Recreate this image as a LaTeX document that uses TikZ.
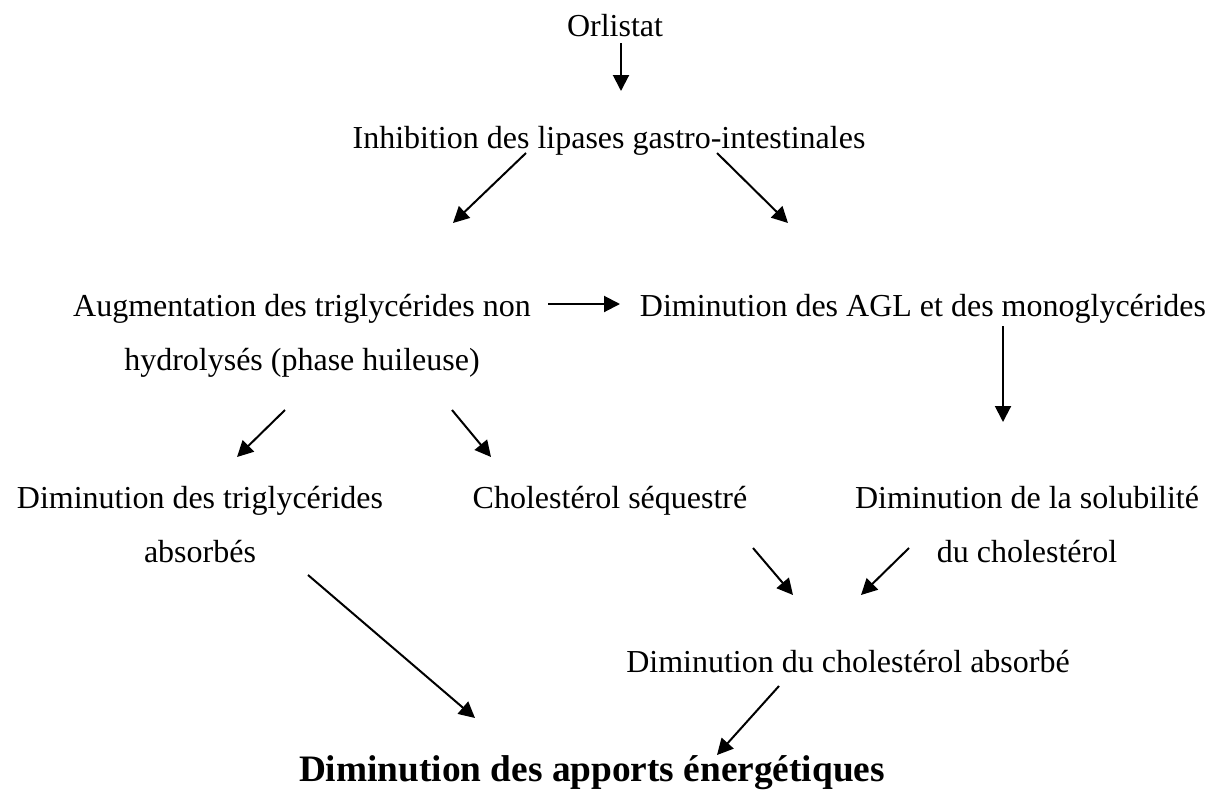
\documentclass[tikz,border=0pt]{standalone}
\usepackage{fontspec}
\setmainfont{Liberation Serif}
\usetikzlibrary{arrows.meta}
\begin{document}
\begin{tikzpicture}[x=0.375pt,y=-0.375pt,
  lbl/.style={anchor=base, inner sep=0pt, align=center,
              font=\fontsize{12}{20.25}\selectfont},
  final/.style={anchor=base, inner sep=0pt,
                font=\fontsize{14}{16}\selectfont\bfseries},
  arr/.style={line width=0.75pt, -{Triangle[length=6pt,width=6pt]}}]
\useasboundingbox (0,0) rectangle (1209,789);

% statements (base anchor = baseline of the last line)
\node[lbl] (orl)  at (615,37)  {Orlistat};
\node[lbl] (inh)  at (609,148) {Inhibition des lipases gastro-intestinales};
\node[lbl] (aug)  at (302,370) {Augmentation des triglycérides non\\hydrolysés (phase huileuse)};
\node[lbl] (agl)  at (923,316) {Diminution des AGL et des monoglycérides};
\node[lbl] (trig) at (200,562) {Diminution des triglycérides\\absorbés};
\node[lbl] (seq)  at (610,508) {Cholestérol séquestré};
\node[lbl] (sol)  at (1027,562) {Diminution de la solubilité\\du cholestérol};
\node[lbl] (chab) at (848,672) {Diminution du cholestérol absorbé};
\node[final] (fin) at (592,781) {Diminution des apports énergétiques};

% arrow end points
\coordinate (a1s) at (621,43);   \coordinate (a1e) at (621,91);
\coordinate (a2s) at (526,153);  \coordinate (a2e) at (453,223);
\coordinate (a3s) at (717,153);  \coordinate (a3e) at (788,223);
\coordinate (a4s) at (548,304);  \coordinate (a4e) at (620,304);
\coordinate (a5s) at (1003,326); \coordinate (a5e) at (1003,422);
\coordinate (a6s) at (285,410);  \coordinate (a6e) at (237,457);
\coordinate (a7s) at (452,410);  \coordinate (a7e) at (491,457);
\coordinate (a8s) at (308,575);  \coordinate (a8e) at (475,718);
\coordinate (a9s) at (753,548);  \coordinate (a9e) at (793,595);
\coordinate (a10s) at (909,548); \coordinate (a10e) at (861,595);
\coordinate (a11s) at (779,686); \coordinate (a11e) at (717,755);

% connectors
\draw[arr] (a1s) -- (a1e);
\draw[arr] (a2s) -- (a2e);
\draw[arr] (a3s) -- (a3e);
\draw[arr] (a4s) -- (a4e);
\draw[arr] (a5s) -- (a5e);
\draw[arr] (a6s) -- (a6e);
\draw[arr] (a7s) -- (a7e);
\draw[arr] (a8s) -- (a8e);
\draw[arr] (a9s) -- (a9e);
\draw[arr] (a10s) -- (a10e);
\draw[arr] (a11s) -- (a11e);
\end{tikzpicture}
\end{document}
